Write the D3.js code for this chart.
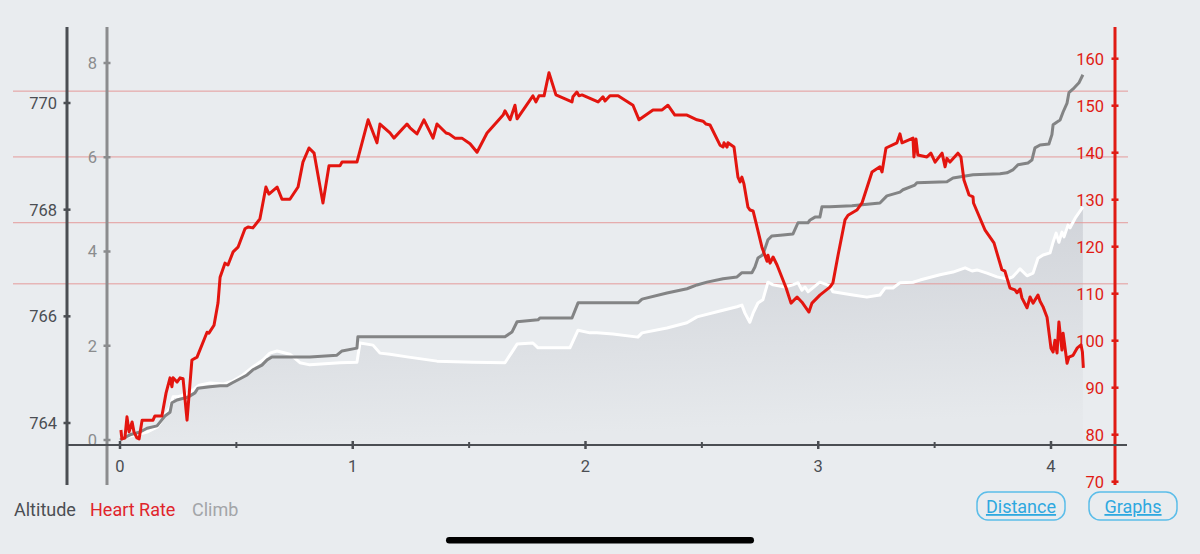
<!DOCTYPE html>
<html><head><meta charset="utf-8">
<script src="https://cdn.jsdelivr.net/npm/d3@7"></script>
<style>html,body{margin:0;padding:0;background:#e9ecef;} svg{display:block;font-family:Roboto,"Noto Sans",sans-serif;}</style>
</head><body><svg id="c" width="1200" height="554"></svg>
<script>
// ---------- data ----------
const distTicks = [0, 1, 2, 3, 4];
const distMinorTicks = [0.5, 1.5, 2.5, 3.5];
const altTicks = [764, 766, 768, 770];
const climbTicks = [0, 2, 4, 6, 8];
const hrTicks = [70, 80, 90, 100, 110, 120, 130, 140, 150, 160];
const hrZones = [112.1, 125.1, 139.1, 153.1];
const legendLabels = ["Altitude", "Heart Rate", "Climb"];
const buttonLabels = ["Distance", "Graphs"];

// [distance, altitude m]
const altitudePoints = [[0,763.72],[0.073,763.78],[0.116,763.83],[0.159,763.92],[0.172,764.00],[0.215,764.30],[0.228,764.49],[0.245,764.49],[0.301,764.56],[0.314,764.62],[0.340,764.71],[0.387,764.75],[0.443,764.73],[0.486,764.79],[0.528,764.90],[0.571,765.05],[0.614,765.18],[0.644,765.31],[0.675,765.35],[0.730,765.29],[0.773,765.13],[0.816,765.09],[0.945,765.13],[1.018,765.14],[1.031,765.50],[1.087,765.46],[1.117,765.31],[1.160,765.29],[1.233,765.24],[1.362,765.16],[1.517,765.14],[1.654,765.13],[1.684,765.33],[1.706,765.48],[1.774,765.50],[1.796,765.41],[1.933,765.41],[1.968,765.74],[2.019,765.69],[2.049,765.69],[2.118,765.67],[2.225,765.61],[2.243,765.69],[2.350,765.78],[2.436,765.88],[2.479,765.99],[2.578,766.10],[2.651,766.18],[2.672,766.21],[2.685,766.06],[2.706,765.89],[2.720,766.06],[2.741,766.25],[2.762,766.31],[2.784,766.64],[2.806,766.59],[2.857,766.55],[2.891,766.59],[2.913,766.63],[2.930,766.49],[2.943,766.55],[2.956,766.46],[3.007,766.64],[3.050,766.57],[3.063,766.46],[3.149,766.40],[3.209,766.36],[3.265,766.40],[3.287,766.53],[3.321,766.53],[3.351,766.63],[3.407,766.64],[3.437,766.68],[3.523,766.78],[3.579,766.83],[3.631,766.91],[3.661,766.85],[3.682,766.87],[3.725,766.81],[3.768,766.74],[3.811,766.70],[3.836,766.74],[3.867,766.89],[3.897,766.76],[3.923,766.81],[3.944,767.09],[3.966,767.15],[3.996,767.19],[4.009,767.39],[4.022,767.56],[4.034,767.39],[4.047,767.58],[4.056,767.49],[4.073,767.71],[4.082,767.66],[4.104,767.84],[4.137,768.05]];

// [distance, climb]
const climbPoints = [[0,0],[0.043,0.11],[0.086,0.17],[0.116,0.25],[0.159,0.30],[0.172,0.38],[0.193,0.51],[0.215,0.59],[0.223,0.79],[0.245,0.85],[0.292,0.91],[0.322,1.00],[0.335,1.10],[0.387,1.13],[0.430,1.15],[0.460,1.15],[0.481,1.21],[0.516,1.30],[0.546,1.38],[0.571,1.49],[0.610,1.59],[0.632,1.70],[0.653,1.76],[0.730,1.76],[0.816,1.76],[0.932,1.80],[0.954,1.89],[1.018,1.95],[1.022,2.19],[1.654,2.19],[1.684,2.29],[1.706,2.51],[1.796,2.55],[1.804,2.59],[1.942,2.59],[1.968,2.91],[2.225,2.91],[2.243,2.99],[2.350,3.12],[2.436,3.21],[2.479,3.29],[2.522,3.35],[2.591,3.42],[2.651,3.46],[2.672,3.55],[2.715,3.55],[2.728,3.67],[2.741,3.86],[2.762,3.93],[2.784,4.25],[2.801,4.33],[2.848,4.35],[2.891,4.37],[2.913,4.61],[2.956,4.61],[2.965,4.67],[2.986,4.73],[3.007,4.73],[3.016,4.95],[3.050,4.95],[3.145,4.97],[3.265,5.03],[3.295,5.18],[3.351,5.26],[3.364,5.31],[3.415,5.41],[3.424,5.46],[3.553,5.48],[3.579,5.56],[3.665,5.63],[3.781,5.65],[3.811,5.67],[3.836,5.73],[3.858,5.84],[3.901,5.88],[3.918,5.94],[3.931,6.20],[3.953,6.26],[3.991,6.28],[4.004,6.48],[4.009,6.69],[4.026,6.75],[4.039,6.79],[4.052,6.96],[4.069,7.15],[4.077,7.37],[4.095,7.45],[4.120,7.58],[4.137,7.75]];

// [distance, heart rate bpm]
const heartRatePoints = [[0.004,81.0],[0.008,79.1],[0.021,79.3],[0.030,83.8],[0.039,80.6],[0.052,82.7],[0.060,80.6],[0.073,79.3],[0.082,79.1],[0.095,83.1],[0.142,83.1],[0.150,84.0],[0.180,84.0],[0.198,88.9],[0.215,92.1],[0.223,90.2],[0.228,92.1],[0.245,91.2],[0.258,92.1],[0.271,91.9],[0.288,83.1],[0.309,95.9],[0.331,96.5],[0.374,101.8],[0.382,101.6],[0.404,103.3],[0.421,108.0],[0.430,113.5],[0.451,116.5],[0.464,116.1],[0.486,118.9],[0.507,119.9],[0.537,123.8],[0.550,124.2],[0.571,124.0],[0.601,125.9],[0.627,132.7],[0.640,131.2],[0.675,132.7],[0.696,130.1],[0.730,130.1],[0.765,132.7],[0.786,138.0],[0.812,141.0],[0.834,139.9],[0.872,129.3],[0.898,137.2],[0.945,137.2],[0.954,138.0],[1.018,138.0],[1.066,147.0],[1.104,142.1],[1.117,146.1],[1.160,144.2],[1.177,143.1],[1.233,146.1],[1.246,145.3],[1.276,144.0],[1.306,147.0],[1.345,143.1],[1.362,146.1],[1.401,144.2],[1.414,144.0],[1.439,143.1],[1.469,143.1],[1.504,141.9],[1.534,140.1],[1.577,144.2],[1.646,148.0],[1.654,148.9],[1.676,147.0],[1.697,150.1],[1.706,147.2],[1.774,152.1],[1.787,150.8],[1.800,152.1],[1.822,152.1],[1.843,157.0],[1.873,152.3],[1.942,150.8],[1.946,151.9],[1.963,152.9],[1.972,152.1],[1.985,152.3],[2.054,150.8],[2.075,151.9],[2.084,151.0],[2.105,152.1],[2.140,152.1],[2.204,150.1],[2.230,147.0],[2.290,149.1],[2.329,149.1],[2.354,150.1],[2.384,148.0],[2.436,148.0],[2.479,147.0],[2.505,146.7],[2.518,146.1],[2.535,145.9],[2.578,141.6],[2.591,141.2],[2.595,142.1],[2.608,141.2],[2.612,142.1],[2.638,141.2],[2.655,134.8],[2.664,133.8],[2.672,134.8],[2.681,133.3],[2.698,128.4],[2.707,127.8],[2.720,127.6],[2.733,125.0],[2.758,119.9],[2.780,116.9],[2.784,118.2],[2.793,116.5],[2.806,117.8],[2.823,116.1],[2.862,111.2],[2.883,108.0],[2.909,109.3],[2.930,108.2],[2.960,106.1],[2.973,108.0],[3.007,109.7],[3.050,111.4],[3.063,112.3],[3.085,118.2],[3.115,125.7],[3.128,126.7],[3.166,127.8],[3.188,129.3],[3.231,135.9],[3.265,137.0],[3.274,135.9],[3.291,141.0],[3.338,142.1],[3.351,144.0],[3.360,142.1],[3.407,143.1],[3.411,139.1],[3.420,142.9],[3.428,139.5],[3.467,139.1],[3.484,139.9],[3.502,138.0],[3.532,139.9],[3.545,137.0],[3.553,138.8],[3.566,138.0],[3.600,139.9],[3.613,139.1],[3.626,134.2],[3.648,131.0],[3.665,130.6],[3.667,129.3],[3.716,123.6],[3.755,120.8],[3.789,115.1],[3.802,114.8],[3.824,111.2],[3.845,110.8],[3.854,110.2],[3.867,111.0],[3.875,109.1],[3.897,107.0],[3.910,109.3],[3.923,108.0],[3.944,109.7],[3.953,108.4],[3.966,107.2],[3.983,105.0],[4.000,98.4],[4.009,97.6],[4.017,100.1],[4.026,97.4],[4.034,104.0],[4.047,98.0],[4.052,101.6],[4.069,95.2],[4.077,96.5],[4.095,96.9],[4.112,98.4],[4.129,99.1],[4.135,97.6],[4.139,94.2]];

// ---------- scales ----------
const svg = d3.select("#c");
const x = d3.scaleLinear().domain([0, 4]).range([120, 1051]);
const yAlt = d3.scaleLinear().domain([764, 770]).range([423, 103]);
const yClimb = d3.scaleLinear().domain([0, 8]).range([440, 63]);
const yHR = d3.scaleLinear().domain([70, 160]).range([481.7, 58.7]);
const axisTop = 27, axisBottom = 485, xAxisY = 445;

// background
svg.append("rect").attr("width", 1200).attr("height", 554).attr("fill", "#e9ecef");

const defs = svg.append("defs");
const grad = defs.append("linearGradient").attr("id", "ag").attr("x1", 0).attr("y1", 0).attr("x2", 0.15).attr("y2", 1);
grad.append("stop").attr("offset", "0%").attr("stop-color", "#cdd0d6");
grad.append("stop").attr("offset", "100%").attr("stop-color", "#e6e9ec");

// altitude area
const area = d3.area().x(d => x(d[0])).y0(xAxisY).y1(d => yAlt(d[1]));
svg.append("path").datum(altitudePoints).attr("d", area).attr("fill", "url(#ag)");

// HR zone grid lines
svg.append("g").selectAll("line").data(hrZones).join("line")
  .attr("x1", 13).attr("x2", 1128)
  .attr("y1", d => yHR(d)).attr("y2", d => yHR(d))
  .attr("stroke", "#e49a9a").attr("stroke-width", 1);

// lines
const lineAlt = d3.line().x(d => x(d[0])).y(d => yAlt(d[1]));
svg.append("path").datum(altitudePoints).attr("d", lineAlt)
  .attr("fill", "none").attr("stroke", "#ffffff").attr("stroke-width", 3).attr("stroke-linejoin", "round");

const lineClimb = d3.line().x(d => x(d[0])).y(d => yClimb(d[1]));
svg.append("path").datum(climbPoints).attr("d", lineClimb)
  .attr("fill", "none").attr("stroke", "#838485").attr("stroke-width", 3).attr("stroke-linejoin", "round");

const lineHR = d3.line().x(d => x(d[0])).y(d => yHR(d[1]));
svg.append("path").datum(heartRatePoints).attr("d", lineHR)
  .attr("fill", "none").attr("stroke", "#e3150f").attr("stroke-width", 3).attr("stroke-linejoin", "round");

// ---------- axes ----------
function vAxis(xPos, scale, ticks, color, labelSide, labelX, top) {
  const g = svg.append("g");
  g.append("line").attr("x1", xPos).attr("x2", xPos).attr("y1", top).attr("y2", axisBottom)
    .attr("stroke", color).attr("stroke-width", 3);
  g.selectAll("line.t").data(ticks).join("line").attr("class", "t")
    .attr("x1", xPos - 3.5).attr("x2", xPos + 3.5)
    .attr("y1", d => scale(d)).attr("y2", d => scale(d))
    .attr("stroke", color).attr("stroke-width", 2.5);
  g.selectAll("text").data(ticks).join("text")
    .attr("x", labelX).attr("y", d => scale(d)).attr("dy", "0.36em")
    .attr("text-anchor", labelSide).attr("fill", color)
    .attr("font-size", 16.5).text(d => d);
}
vAxis(67, yAlt, altTicks, "#4b4e53", "end", 57, axisTop);
vAxis(107, yClimb, climbTicks, "#8b8c8e", "end", 97, axisTop);
vAxis(1115, yHR, hrTicks, "#e01b14", "end", 1104, axisTop);

// x axis
const gx = svg.append("g");
gx.append("line").attr("x1", 67).attr("x2", 1127).attr("y1", xAxisY).attr("y2", xAxisY)
  .attr("stroke", "#4b4e53").attr("stroke-width", 2);
gx.selectAll("line.maj").data(distTicks).join("line").attr("class", "maj")
  .attr("x1", d => x(d)).attr("x2", d => x(d)).attr("y1", xAxisY - 4).attr("y2", xAxisY + 4)
  .attr("stroke", "#4b4e53").attr("stroke-width", 2.5);
gx.selectAll("line.min").data(distMinorTicks).join("line").attr("class", "min")
  .attr("x1", d => x(d)).attr("x2", d => x(d)).attr("y1", xAxisY - 3).attr("y2", xAxisY + 3)
  .attr("stroke", "#4b4e53").attr("stroke-width", 2);
gx.selectAll("text").data(distTicks).join("text")
  .attr("x", d => x(d)).attr("y", 472).attr("text-anchor", "middle")
  .attr("fill", "#4b4e53").attr("font-size", 16.5).text(d => d);

// ---------- legend ----------
const legendColors = ["#4b4e53", "#e0242b", "#a3a5a8"];
const legendX = [14, 90, 192];
svg.append("g").selectAll("text").data(legendLabels).join("text")
  .attr("x", (d, i) => legendX[i]).attr("y", 516)
  .attr("fill", (d, i) => legendColors[i]).attr("font-size", 18).text(d => d);

// ---------- buttons ----------
const btnX = [977, 1089], btnW = [88, 88];
const btn = svg.append("g").selectAll("g").data(buttonLabels).join("g");
btn.append("rect").attr("x", (d, i) => btnX[i]).attr("y", 492).attr("width", (d, i) => btnW[i]).attr("height", 28)
  .attr("rx", 11).attr("fill", "none").attr("stroke", "#5bbde9").attr("stroke-width", 1.5);
btn.append("text").attr("x", (d, i) => btnX[i] + btnW[i] / 2).attr("y", 513)
  .attr("text-anchor", "middle").attr("fill", "#2ea8df").attr("font-size", 18)
  .attr("text-decoration", "underline").text(d => d);

// home indicator
svg.append("rect").attr("x", 446).attr("y", 537).attr("width", 308).attr("height", 6.5).attr("rx", 3.25).attr("fill", "#000");
</script></body></html>
